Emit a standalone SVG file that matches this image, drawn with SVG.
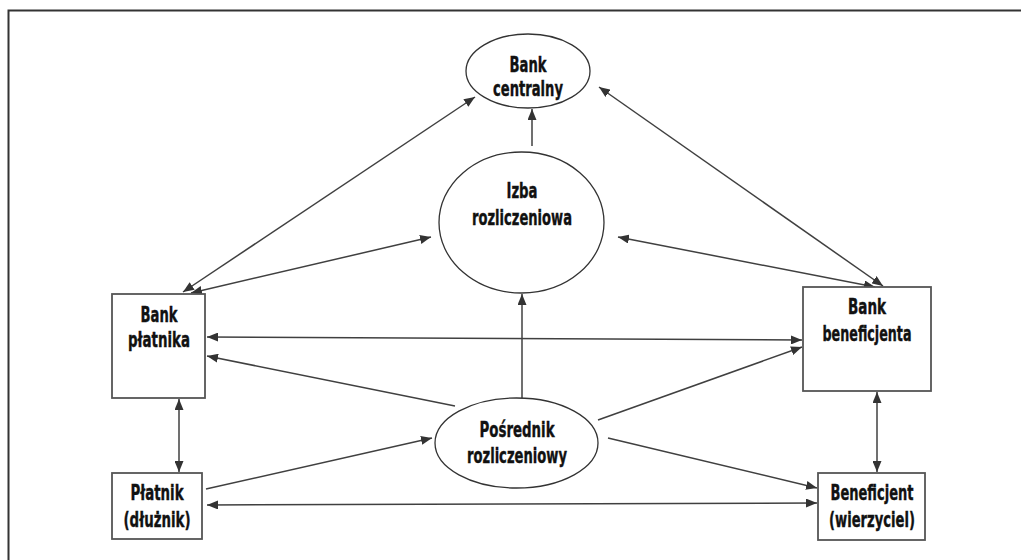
<svg xmlns="http://www.w3.org/2000/svg" width="1021" height="560" viewBox="0 0 1021 560">
<style>
.bg{fill:#fff}
.frame{fill:none;stroke:#333;stroke-width:2}
.ell{fill:#fff;stroke:#333;stroke-width:1.3}
.box{fill:#fff;stroke:#555;stroke-width:1.8}
.t{font-family:"DejaVu Sans Condensed","DejaVu Sans",sans-serif;font-weight:bold;font-size:22px;fill:#111;stroke:#111;stroke-width:0.4;text-anchor:middle}
.c line{stroke:#404040;stroke-width:1.5;fill:none}
.one{marker-end:url(#ah)}
.two{marker-start:url(#ah);marker-end:url(#ah)}
</style>
<defs>
<marker id="ah" markerUnits="userSpaceOnUse" markerWidth="11" markerHeight="9" refX="11" refY="4.5" orient="auto-start-reverse">
<path d="M0,0 L11,4.5 L0,9 z" fill="#333"/>
</marker>
</defs>
<rect class="bg" x="0" y="0" width="1021" height="560"/>
<rect class="frame" x="8.5" y="10.5" width="1030" height="570"/>
<g class="c" id="connectors">
<line class="two" x1="183" y1="292" x2="475" y2="97"/>
<line class="two" x1="191" y1="293" x2="431" y2="237"/>
<line class="two" x1="599" y1="87" x2="883" y2="286"/>
<line class="two" x1="618" y1="237" x2="875" y2="287"/>
<line class="one" x1="532" y1="146" x2="532" y2="109"/>
<line class="one" x1="522" y1="398" x2="522" y2="294"/>
<line class="two" x1="207" y1="337" x2="802" y2="340"/>
<line class="one" x1="455" y1="406" x2="207" y2="356"/>
<line class="one" x1="598" y1="420" x2="802" y2="347"/>
<line class="one" x1="608" y1="438" x2="817" y2="488"/>
<line class="one" x1="206" y1="489" x2="432" y2="438"/>
<line class="two" x1="207" y1="505" x2="817" y2="503"/>
<line class="two" x1="179" y1="399" x2="179" y2="472"/>
<line class="two" x1="877" y1="392" x2="877" y2="472"/>
</g>
<g id="bank-centralny">
<ellipse class="ell" cx="528" cy="71" rx="62" ry="37"/>
<text class="t" x="528" y="72" textLength="37" lengthAdjust="spacingAndGlyphs">Bank</text>
<text class="t" x="528" y="96" textLength="70" lengthAdjust="spacingAndGlyphs">centralny</text>
</g>
<g id="izba-rozliczeniowa">
<ellipse class="ell" cx="521.5" cy="222.5" rx="82.5" ry="70.5"/>
<text class="t" x="522" y="198" textLength="31" lengthAdjust="spacingAndGlyphs">Izba</text>
<text class="t" x="522" y="225" textLength="100" lengthAdjust="spacingAndGlyphs">rozliczeniowa</text>
</g>
<g id="bank-platnika">
<rect class="box" x="112" y="294" width="93" height="104"/>
<text class="t" x="159" y="322" textLength="37" lengthAdjust="spacingAndGlyphs">Bank</text>
<text class="t" x="159" y="347" textLength="62" lengthAdjust="spacingAndGlyphs">płatnika</text>
</g>
<g id="bank-beneficjenta">
<rect class="box" x="803" y="287" width="128" height="104"/>
<text class="t" x="867" y="314" textLength="38" lengthAdjust="spacingAndGlyphs">Bank</text>
<text class="t" x="867" y="341" textLength="89" lengthAdjust="spacingAndGlyphs">beneficjenta</text>
</g>
<g id="posrednik-rozliczeniowy">
<ellipse class="ell" cx="516.5" cy="443" rx="81.5" ry="45"/>
<text class="t" x="517" y="437" textLength="75" lengthAdjust="spacingAndGlyphs">Pośrednik</text>
<text class="t" x="517" y="463" textLength="100" lengthAdjust="spacingAndGlyphs">rozliczeniowy</text>
</g>
<g id="platnik">
<rect class="box" x="112" y="473" width="90" height="66"/>
<text class="t" x="157" y="500" textLength="53" lengthAdjust="spacingAndGlyphs">Płatnik</text>
<text class="t" x="157" y="527" textLength="67" lengthAdjust="spacingAndGlyphs">(dłużnik)</text>
</g>
<g id="beneficjent">
<rect class="box" x="818" y="473" width="107" height="67"/>
<text class="t" x="872" y="500" textLength="83" lengthAdjust="spacingAndGlyphs">Beneficjent</text>
<text class="t" x="872" y="527" textLength="86" lengthAdjust="spacingAndGlyphs">(wierzyciel)</text>
</g>
</svg>
